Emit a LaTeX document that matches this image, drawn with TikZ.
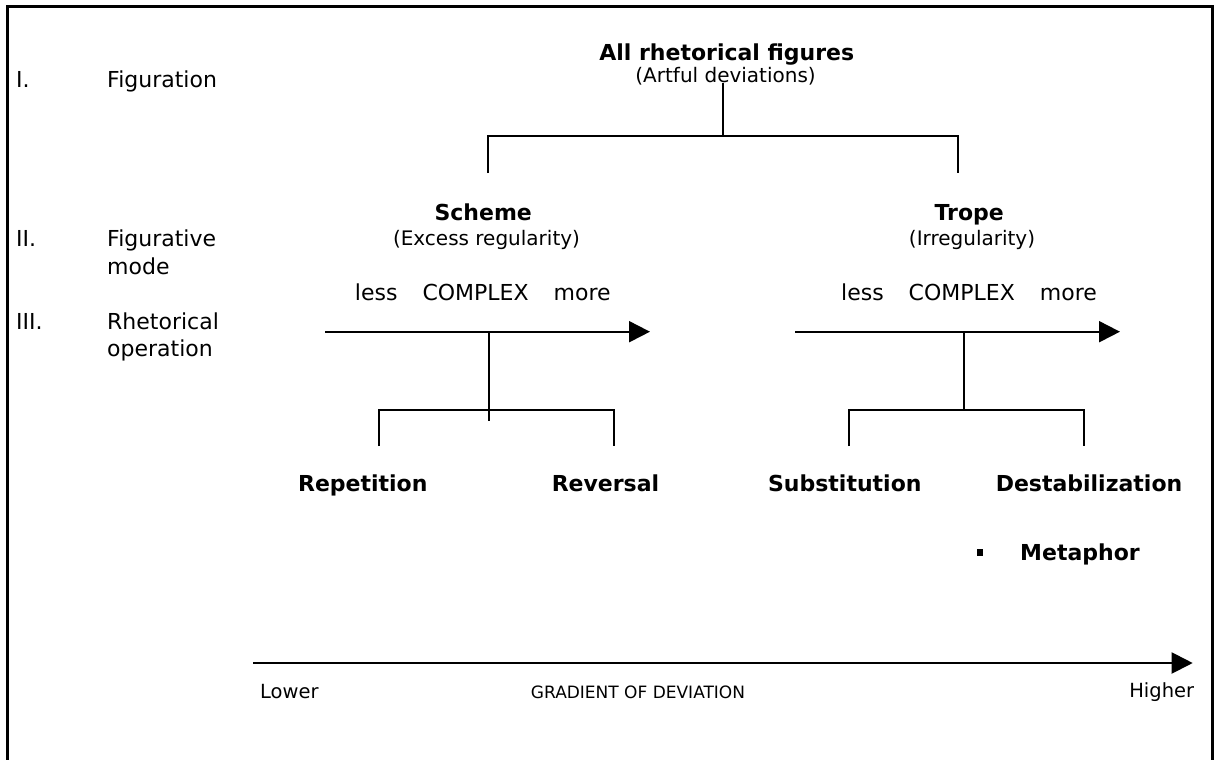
\documentclass[tikz,border=0pt]{standalone}
\usepackage{fontspec}
\setmainfont{DejaVu Sans}
\usetikzlibrary{arrows.meta, positioning}

\begin{document}
\begin{tikzpicture}[
    x=1pt, y=-1pt,
    lbl/.style={font=\fontsize{22}{27}\selectfont, inner sep=0pt, anchor=base},
    hd/.style={lbl, font=\fontsize{22}{27}\selectfont\bfseries},
    sub/.style={lbl, font=\fontsize{20}{24}\selectfont},
    sm/.style={lbl, font=\fontsize{19.5}{23}\selectfont},
    ed/.style={line width=2pt},
    ar/.style={ed, -{Triangle[length=21pt, width=21pt]}},
  ]
  \useasboundingbox (0,0) rectangle (1215,760);
  % frame, open at the bottom
  \draw[line width=3pt] (7,760) -- (7,7) -- (1212,7) -- (1212,760);

  % levels on the left
  \foreach \n/\r/\y/\t in {a/I./87/Figuration, b/II./246.7/Figurative,
                           c/III./329/Rhetorical} {
    \node[lbl, anchor=base west] (num\n) at (16,\y) {\r};
    \node[lbl, anchor=base west] (lev\n) at (107,\y) {\t};
  }
  \node[lbl, anchor=base west] (levb2) at (107,274.3) {mode};
  \node[lbl, anchor=base west] (levc2) at (107,356.6) {operation};

  % I: all figures
  \node[hd] (all) at (726.8,60) {All rhetorical figures};
  \node[sub] (allsub) at (725.6,82.5) {(Artful deviations)};
  \coordinate (j0) at (722.6,136);
  \coordinate (jl) at (488,173);
  \coordinate (jr) at (958,173);
  \draw[ed] (j0 |- allsub.base) -- (j0);
  \draw[ed] (jl) |- (j0) -| (jr);

  % II: scheme
  \node[hd] (scheme) at (483.2,220) {Scheme};
  \node[sub] (schemesub) at (486.5,245.7) {(Excess regularity)};
  \node[lbl] (cxl) at (482.8,300) {less\hspace{25pt}COMPLEX\hspace{25pt}more};
  \coordinate (al0) at (325,331.7);
  \coordinate (al1) at (650,331.7);
  \draw[ar] (al0) -- (al1);
  \coordinate (sl) at (488.7,420.7);
  \draw[ed] (sl |- al0) -- (sl);
  \coordinate (rep0) at (379.3,446);
  \coordinate (rev0) at (614.3,446);
  \draw[ed] (rep0) -- ++(0,-36) -| (rev0);

  % II: trope
  \node[hd] (trope) at (969.2,220) {Trope};
  \node[sub] (tropesub) at (972,245.7) {(Irregularity)};
  \node[lbl] (cxr) at (969,300) {less\hspace{25pt}COMPLEX\hspace{25pt}more};
  \coordinate (ar0) at (795,331.7);
  \coordinate (ar1) at (1120,331.7);
  \draw[ar] (ar0) -- (ar1);
  \coordinate (sr) at (964.3,410);
  \draw[ed] (sr |- ar0) -- (sr);
  \coordinate (subst0) at (849.3,446);
  \coordinate (dest0) at (1084.3,446);
  \draw[ed] (subst0) -- ++(0,-36) -| (dest0);

  % III: operations
  \node[hd] (rep) at (362.8,491.7) {Repetition};
  \node[hd] (rev) at (605.5,491.7) {Reversal};
  \node[hd] (subst) at (844.8,491.7) {Substitution};
  \node[hd] (dest) at (1089,491.7) {Destabilization};
  \node[fill, inner sep=0pt, minimum size=6.5pt] (blt) at (980,552.5) {};
  \node[hd, anchor=base west] (met) at (1020,560.7) {Metaphor};

  % gradient
  \coordinate (g0) at (253.3,663);
  \coordinate (g1) at (1192.7,663);
  \draw[ar] (g0) -- (g1);
  \node[sm, anchor=base west] (low) at (260,698) {Lower};
  \node[sm, font=\fontsize{17}{20}\selectfont] (grad) at (638,698) {GRADIENT OF DEVIATION};
  \node[sm, anchor=base east] (high) at (1194.3,697) {Higher};
\end{tikzpicture}
\end{document}
